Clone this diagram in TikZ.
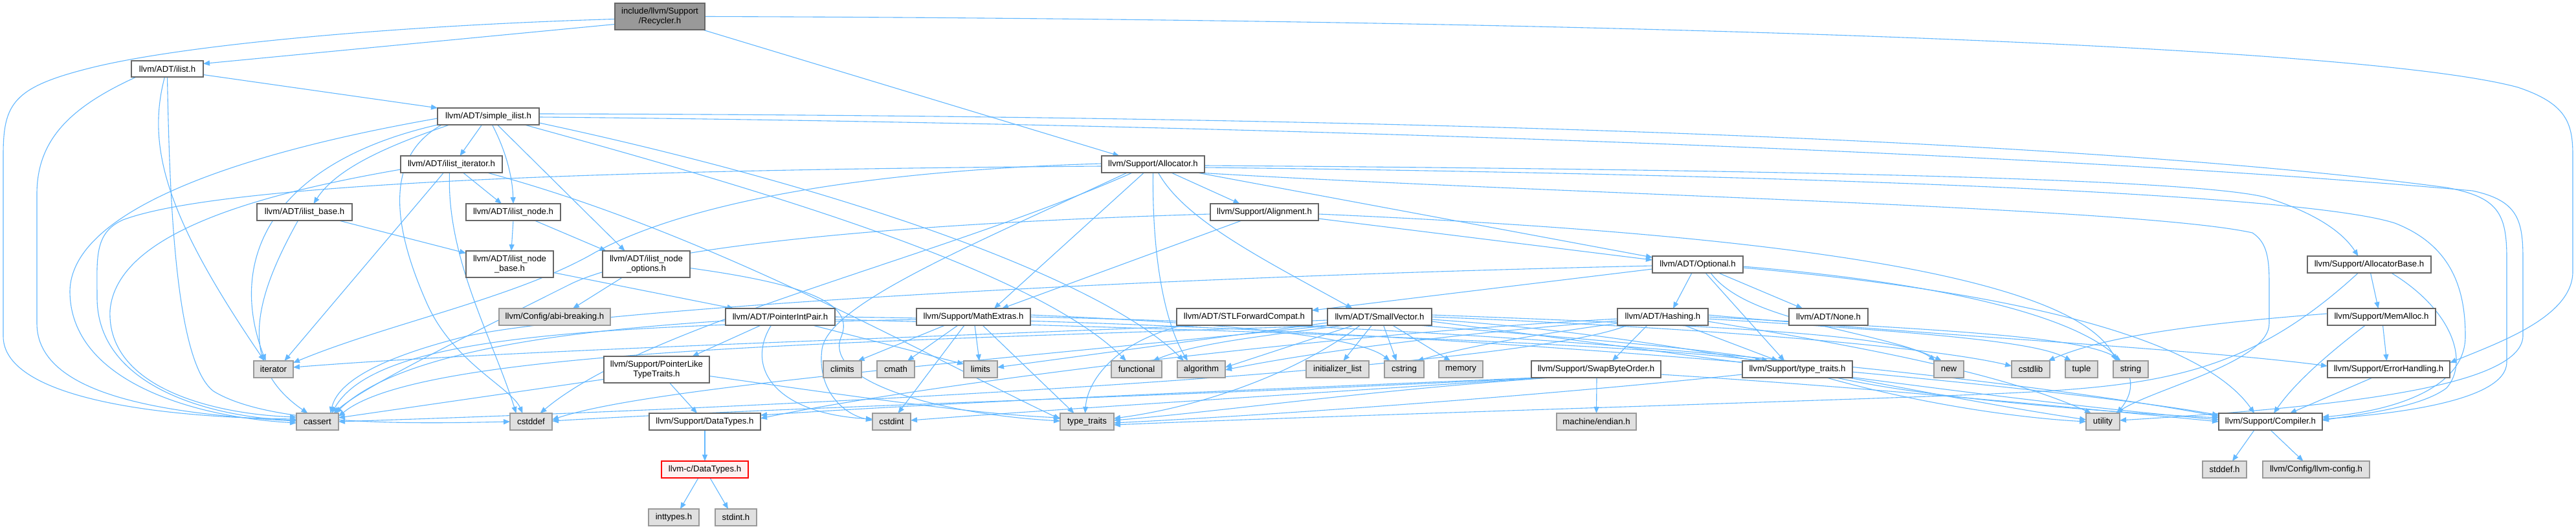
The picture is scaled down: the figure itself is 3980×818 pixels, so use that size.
\documentclass[tikz,border=0pt]{standalone}
\usepackage{fontspec}
\setmainfont{Liberation Sans}
\usetikzlibrary{arrows.meta,calc}
\definecolor{edgec}{HTML}{63B8FF}
\definecolor{wbord}{HTML}{666666}
\definecolor{gbord}{HTML}{999999}
\definecolor{gfill}{HTML}{E0E0E0}
\definecolor{rootf}{HTML}{999999}
\definecolor{rfill}{HTML}{FFF0F0}
\pgfdeclarelayer{bg}
\pgfsetlayers{bg,main}
\tikzset{
  box/.style={rectangle,inner sep=0pt,align=center,font=\fontsize{6.6}{7.2}\selectfont,line width=0.6pt},
  wbox/.style={box,draw=wbord,fill=white},
  gbox/.style={box,draw=gbord,fill=gfill},
  rootbox/.style={box,draw=wbord,fill=rootf},
  rbox/.style={box,draw=red,fill=rfill},
  e/.style={draw=edgec,line width=0.55pt,-{Triangle[length=5pt,width=4pt]}}
}
\newcommand\mkbox[7]{\node[#6,minimum width={(#4-#2)*0.5pt},minimum height={(#5-#3)*0.5pt}] (#1) at ({(#2+#4)/2},{(#3+#5)/2}) {#7};}
\begin{document}
\begin{tikzpicture}[x=0.5pt,y=-0.5pt]
\useasboundingbox (0,0) rectangle (3980,818);
\begin{pgfonlayer}{bg}
\fill[white] (0,0) rectangle (3980,818);
\end{pgfonlayer}
\mkbox{root}{950}{5}{1089}{46}{rootbox}{include/llvm/Support\\/Recycler.h}
\mkbox{ilist}{203}{94}{314}{119}{wbox}{llvm/ADT/ilist.h}
\mkbox{simple}{676}{167}{833}{193}{wbox}{llvm/ADT/simple\_ilist.h}
\mkbox{iter}{619}{241}{776}{267}{wbox}{llvm/ADT/ilist\_iterator.h}
\mkbox{ibase}{397}{315}{544}{341}{wbox}{llvm/ADT/ilist\_base.h}
\mkbox{inode}{720}{315}{866}{341}{wbox}{llvm/ADT/ilist\_node.h}
\mkbox{nodebase}{720}{388}{855}{429}{wbox}{llvm/ADT/ilist\_node\\\_base.h}
\mkbox{nodeopt}{931}{388}{1066}{429}{wbox}{llvm/ADT/ilist\_node\\\_options.h}
\mkbox{alloc}{1702}{241}{1861}{267}{wbox}{llvm/Support/Allocator.h}
\mkbox{alignh}{1870}{315}{2037}{341}{wbox}{llvm/Support/Alignment.h}
\mkbox{optional}{2553}{396}{2693}{422}{wbox}{llvm/ADT/Optional.h}
\mkbox{allocbase}{3565}{396}{3756}{422}{wbox}{llvm/Support/AllocatorBase.h}
\mkbox{abi}{771}{477}{943}{503}{gbox}{llvm/Config/abi-breaking.h}
\mkbox{pip}{1121}{477}{1290}{503}{wbox}{llvm/ADT/PointerIntPair.h}
\mkbox{mathx}{1416}{477}{1592}{503}{wbox}{llvm/Support/MathExtras.h}
\mkbox{stlfc}{1818}{477}{2027}{503}{wbox}{llvm/ADT/STLForwardCompat.h}
\mkbox{smallvec}{2051}{477}{2212}{503}{wbox}{llvm/ADT/SmallVector.h}
\mkbox{hashing}{2499}{477}{2639}{503}{wbox}{llvm/ADT/Hashing.h}
\mkbox{noneh}{2764}{477}{2886}{503}{wbox}{llvm/ADT/None.h}
\mkbox{memalloc}{3596}{477}{3763}{503}{wbox}{llvm/Support/MemAlloc.h}
\mkbox{iterator}{392}{558}{453}{584}{gbox}{iterator}
\mkbox{pltt}{933}{551}{1096}{592}{wbox}{llvm/Support/PointerLike\\TypeTraits.h}
\mkbox{climits}{1272}{558}{1331}{584}{gbox}{climits}
\mkbox{cmath}{1355}{558}{1413}{584}{gbox}{cmath}
\mkbox{limits}{1489}{558}{1541}{584}{gbox}{limits}
\mkbox{functional}{1717}{558}{1795}{584}{gbox}{functional}
\mkbox{algorithm}{1819}{558}{1893}{584}{gbox}{algorithm}
\mkbox{initlist}{2018}{558}{2115}{584}{gbox}{initializer\_list}
\mkbox{cstring}{2139}{558}{2200}{584}{gbox}{cstring}
\mkbox{memory}{2223}{558}{2291}{584}{gbox}{memory}
\mkbox{swap}{2366}{558}{2566}{584}{wbox}{llvm/Support/SwapByteOrder.h}
\mkbox{tt}{2692}{558}{2862}{584}{wbox}{llvm/Support/type\_traits.h}
\mkbox{newh}{2988}{558}{3034}{584}{gbox}{new}
\mkbox{cstdlib}{3108}{558}{3167}{584}{gbox}{cstdlib}
\mkbox{tuple}{3191}{558}{3241}{584}{gbox}{tuple}
\mkbox{stringh}{3265}{558}{3319}{584}{gbox}{string}
\mkbox{errh}{3596}{558}{3785}{584}{wbox}{llvm/Support/ErrorHandling.h}
\mkbox{cassert}{458}{639}{523}{665}{gbox}{cassert}
\mkbox{cstddef}{788}{639}{853}{665}{gbox}{cstddef}
\mkbox{datatypes}{1003}{639}{1175}{665}{wbox}{llvm/Support/DataTypes.h}
\mkbox{cstdint}{1348}{639}{1407}{665}{gbox}{cstdint}
\mkbox{typetraits}{1638}{639}{1721}{665}{gbox}{type\_traits}
\mkbox{endian}{2405}{639}{2528}{665}{gbox}{machine/endian.h}
\mkbox{utility}{3223}{639}{3275}{665}{gbox}{utility}
\mkbox{compiler}{3428}{639}{3588}{665}{wbox}{llvm/Support/Compiler.h}
\mkbox{cdt}{1022}{713}{1156}{739}{rbox}{llvm-c/DataTypes.h}
\mkbox{stddef}{3403}{713}{3471}{739}{gbox}{stddef.h}
\mkbox{llvmconfig}{3496}{713}{3661}{739}{gbox}{llvm/Config/llvm-config.h}
\mkbox{inttypes}{1002}{787}{1080}{813}{gbox}{inttypes.h}
\mkbox{stdint}{1105}{787}{1169}{813}{gbox}{stdint.h}
\begin{pgfonlayer}{bg}
% root
\draw[e] ($(root)+(-69.5,4)$) .. controls (600,40) and (280,70) .. (140,105) .. controls (20,135) and (5,160) .. (5,240) -- (5,520) .. controls (5,610) and (220,645) .. ($(cassert)+(-32.5,-4)$);
\draw[e] ($(root)+(-69.5,12)$) -- ($(ilist)+(55.5,-8)$);
\draw[e] ($(root)+(66,20.5)$) -- ($(alloc)+(-52,-13)$);
\draw[e] ($(root)+(69.5,0)$) .. controls (2500,30) and (3650,70) .. (3890,135) .. controls (3965,160) and (3975,190) .. (3975,240) -- (3975,420) .. controls (3975,490) and (3860,530) .. ($(errh)+(94.5,-10)$);
% ilist
\draw[e] ($(ilist)+(55.5,9)$) -- ($(simple)+(-78.5,-13)$);
\draw[e] ($(ilist)+(-48,12.5)$) .. controls (110,165) and (57,215) .. (57,300) -- (57,500) .. controls (57,610) and (250,640) .. ($(cassert)+(-32.5,-1)$);
\draw[e] ($(ilist)+(-4,12.5)$) .. controls (225,230) and (260,340) .. ($(iterator)+(-14,-13)$);
\draw[e] ($(ilist)+(0,12.5)$) .. controls (262,300) and (270,560) .. (330,605) .. controls (420,660) and (650,655) .. ($(cstddef)+(-32.5,0)$);
% simple_ilist
\draw[e] ($(simple)+(-10,13)$) -- ($(iter)+(13,-13)$);
\draw[e] ($(simple)+(-60,13)$) .. controls (600,225) and (520,260) .. ($(ibase)+(14,-13)$);
\draw[e] ($(simple)+(6,13)$) .. controls (785,240) and (792,280) .. ($(inode)+(0,-13)$);
\draw[e] ($(simple)+(14,13)$) -- ($(nodeopt)+(-33,-20.5)$);
\draw[e] ($(simple)+(78.5,-4)$) .. controls (1800,178) and (3100,200) .. (3780,290) .. controls (3860,305) and (3873,330) .. (3873,400) -- (3873,560) .. controls (3873,620) and (3700,640) .. ($(compiler)+(80,-4)$);
\draw[e] ($(simple)+(78.5,1)$) .. controls (1800,190) and (3100,230) .. (3820,295) .. controls (3890,310) and (3898,340) .. (3898,400) -- (3898,520) .. controls (3895,600) and (3600,630) .. ($(utility)+(26,-2)$);
\draw[e] ($(simple)+(56,13)$) .. controls (1200,300) and (1600,420) .. ($(functional)+(-16,-13)$);
\draw[e] ($(simple)+(78.5,10)$) .. controls (1300,290) and (1700,430) .. ($(algorithm)+(-27,-13)$);
\draw[e] ($(simple)+(-78.5,3)$) .. controls (350,240) and (110,330) .. (108,450) .. controls (108,590) and (300,645) .. ($(cassert)+(-32.5,2)$);
\draw[e] ($(simple)+(-72,13)$) .. controls (580,250) and (620,380) .. (660,470) .. controls (700,560) and (790,600) .. ($(cstddef)+(-13,-13)$);
\draw[e] ($(simple)+(-74,12)$) .. controls (420,250) and (350,400) .. ($(iterator)+(-12,-13)$);
% ilist_iterator
\draw[e] ($(iter)+(18,13)$) -- ($(inode)+(-18,-13)$);
\draw[e] ($(iter)+(-78.5,8)$) .. controls (400,300) and (180,360) .. (170,480) .. controls (165,600) and (330,640) .. ($(cassert)+(-32.5,-7)$);
\draw[e] ($(iter)+(-3,13)$) .. controls (690,400) and (760,520) .. ($(cstddef)+(-23,-13)$);
\draw[e] ($(iter)+(-12,13)$) -- ($(iterator)+(17,-13)$);
\draw[e] ($(iter)+(55,13)$) .. controls (1100,360) and (1450,560) .. ($(typetraits)+(-41.5,-4)$);
% ilist_base
\draw[e] ($(ibase)+(53,13)$) -- ($(nodebase)+(-67.5,-17)$);
\draw[e] ($(ibase)+(-10,13)$) .. controls (400,450) and (360,560) .. ($(cassert)+(-15,-13)$);
% ilist_node
\draw[e] ($(inode)+(0,13)$) -- ($(nodebase)+(2.5,-20.5)$);
\draw[e] ($(inode)+(33,13)$) -- ($(nodeopt)+(-62,-20.5)$);
\draw[e] ($(nodebase)+(67.5,13)$) -- ($(pip)+(-72,-13)$);
\draw[e] ($(nodeopt)+(-37,20.5)$) -- ($(abi)+(28,-13)$);
\draw[e] ($(nodeopt)+(67.5,6)$) .. controls (1250,440) and (1320,470) .. (1300,520) .. controls (1270,590) and (1450,640) .. ($(typetraits)+(-41.5,-1)$);
% Allocator
\draw[e] ($(alloc)+(28,13)$) -- ($(alignh)+(-38,-13)$);
\draw[e] ($(alloc)+(68,13)$) -- ($(optional)+(-70,-11)$);
\draw[e] ($(alloc)+(8,13)$) .. controls (1830,340) and (1950,400) .. ($(smallvec)+(-42,-13)$);
\draw[e] ($(alloc)+(-14,13)$) -- ($(mathx)+(32,-13)$);
\draw[e] ($(alloc)+(0,13)$) .. controls (1780,400) and (1800,500) .. ($(algorithm)+(-21,-13)$);
\draw[e] ($(alloc)+(79.5,2)$) .. controls (2700,262) and (3380,275) .. (3500,305) .. controls (3580,330) and (3620,360) .. ($(allocbase)+(-17,-13)$);
\draw[e] ($(alloc)+(79.5,5)$) .. controls (2800,270) and (3560,300) .. (3700,345) .. controls (3790,380) and (3809,450) .. (3809,520) .. controls (3809,600) and (3700,635) .. ($(compiler)+(80,-7)$);
\draw[e] ($(alloc)+(69,13)$) .. controls (2400,300) and (3300,320) .. (3480,360) .. controls (3503,375) and (3506,400) .. (3506,440) -- (3506,500) .. controls (3506,560) and (3330,600) .. ($(utility)+(20,-13)$);
\draw[e] ($(alloc)+(-79.5,3)$) .. controls (1000,262) and (350,280) .. (190,340) .. controls (145,360) and (150,400) .. (150,460) .. controls (150,600) and (330,645) .. ($(cassert)+(-32.5,-2)$);
\draw[e] ($(alloc)+(-79.5,-1)$) .. controls (1300,265) and (1050,320) .. (920,390) .. controls (800,460) and (600,500) .. ($(iterator)+(30.5,-10)$);
\draw[e] ($(alloc)+(-40,13)$) .. controls (1500,380) and (1280,470) .. (1270,540) .. controls (1262,600) and (1300,640) .. ($(cstdint)+(-29.5,-2)$);
\draw[e] ($(alloc)+(-32,13)$) .. controls (1450,400) and (1000,500) .. ($(cstddef)+(14,-13)$);
% Alignment
\draw[e] ($(alignh)+(83.5,10)$) -- ($(optional)+(-70,-7)$);
\draw[e] ($(alignh)+(-35,13)$) -- ($(mathx)+(44,-13)$);
\draw[e] ($(alignh)+(-83.5,3)$) .. controls (1400,345) and (1000,380) .. (880,440) .. controls (700,530) and (560,600) .. ($(cassert)+(25,-13)$);
\draw[e] ($(alignh)+(83.5,3)$) .. controls (2700,360) and (3200,420) .. ($(stringh)+(-22,-13)$);
% Optional
\draw[e] ($(optional)+(-9,13)$) -- ($(hashing)+(16,-13)$);
\draw[e] ($(optional)+(32,13)$) -- ($(noneh)+(-40,-13)$);
\draw[e] ($(optional)+(-70,7)$) -- ($(stlfc)+(104.5,-10)$);
\draw[e] ($(optional)+(12,13)$) -- ($(tt)+(-20,-13)$);
\draw[e] ($(optional)+(-70,2)$) .. controls (1700,430) and (900,480) .. (720,520) .. controls (560,560) and (520,600) .. ($(cassert)+(20,-13)$);
\draw[e] ($(optional)+(20,13)$) .. controls (2700,500) and (2900,510) .. ($(newh)+(-11,-13)$);
\draw[e] ($(optional)+(70,3)$) .. controls (3150,450) and (3350,540) .. ($(utility)+(22,-13)$);
\draw[e] ($(optional)+(70,5)$) .. controls (3100,450) and (3400,520) .. ($(compiler)+(-25,-13)$);
% SmallVector
\draw[e] ($(smallvec)+(-12,13)$) -- ($(initlist)+(9,-13)$);
\draw[e] ($(smallvec)+(6,13)$) -- ($(cstring)+(-12,-13)$);
\draw[e] ($(smallvec)+(20,13)$) -- ($(memory)+(-16,-13)$);
\draw[e] ($(smallvec)+(-40,13)$) -- ($(algorithm)+(37,-3)$);
\draw[e] ($(smallvec)+(-55,13)$) .. controls (1950,520) and (1850,530) .. ($(functional)+(25,-13)$);
\draw[e] ($(smallvec)+(-80.5,5)$) .. controls (1500,520) and (800,540) .. ($(iterator)+(30.5,-3)$);
\draw[e] ($(smallvec)+(-80.5,9)$) -- ($(limits)+(26,-3)$);
\draw[e] ($(smallvec)+(-68,13)$) .. controls (1300,530) and (650,540) .. ($(cassert)+(32.5,-8)$);
\draw[e] ($(smallvec)+(-74,13)$) .. controls (1500,560) and (1000,600) .. ($(cstddef)+(32.5,-3)$);
\draw[e] ($(smallvec)+(-30,13)$) .. controls (2000,580) and (1850,630) .. ($(typetraits)+(41.5,-5)$);
\draw[e] ($(smallvec)+(80.5,-3)$) .. controls (2700,505) and (2940,520) .. ($(newh)+(-21,-13)$);
\draw[e] ($(smallvec)+(80.5,0)$) .. controls (2700,510) and (3000,540) .. ($(cstdlib)+(-29.5,-5)$);
\draw[e] ($(smallvec)+(80.5,4)$) .. controls (2600,520) and (2900,600) .. ($(utility)+(-26,-3)$);
\draw[e] ($(smallvec)+(80.5,7)$) .. controls (2700,560) and (3100,620) .. ($(compiler)+(-80,-3)$);
\draw[e] ($(smallvec)+(60,13)$) .. controls (2400,520) and (2650,540) .. ($(tt)+(-45,-13)$);
% Hashing
\draw[e] ($(hashing)+(-24,13)$) -- ($(swap)+(25,-13)$);
\draw[e] ($(hashing)+(33,13)$) -- ($(tt)+(-30,-13)$);
\draw[e] ($(hashing)+(-70,10)$) .. controls (2350,520) and (2250,540) .. ($(cstring)+(20,-13)$);
\draw[e] ($(hashing)+(-70,3)$) .. controls (2000,520) and (1400,600) .. ($(datatypes)+(86,-5)$);
\draw[e] ($(hashing)+(-70,6)$) .. controls (2200,520) and (2000,550) .. ($(algorithm)+(37,1)$);
\draw[e] ($(hashing)+(-55,13)$) .. controls (2380,560) and (1500,620) .. ($(cassert)+(32.5,0)$);
\draw[e] ($(hashing)+(70,-3)$) .. controls (3000,520) and (3400,540) .. ($(errh)+(-94.5,-5)$);
\draw[e] ($(hashing)+(70,0)$) .. controls (3000,510) and (3220,520) .. ($(stringh)+(-15,-13)$);
\draw[e] ($(hashing)+(70,3)$) .. controls (3000,515) and (3150,530) .. ($(tuple)+(-16,-13)$);
\draw[e] ($(hashing)+(70,7)$) .. controls (2900,540) and (3100,580) .. ($(utility)+(-18,-13)$);
% SwapByteOrder
\draw[e] ($(swap)+(1,13)$) -- ($(endian)+(0,-13)$);
\draw[e] ($(swap)+(100,8)$) .. controls (2900,600) and (3200,630) .. ($(compiler)+(-80,0)$);
\draw[e] ($(swap)+(-92,13)$) .. controls (2000,600) and (1500,620) .. ($(datatypes)+(86,-10)$);
\draw[e] ($(swap)+(-85,13)$) .. controls (1900,610) and (1200,630) .. ($(cstddef)+(32.5,-1)$);
\draw[e] ($(swap)+(-78,13)$) .. controls (2000,610) and (1600,635) .. ($(cstdint)+(29.5,-2)$);
\draw[e] ($(swap)+(-70,13)$) .. controls (2100,605) and (1900,635) .. ($(typetraits)+(41.5,-2)$);
% type_traits.h
\draw[e] ($(tt)+(-85,8)$) .. controls (2400,610) and (2000,640) .. ($(typetraits)+(41.5,2)$);
\draw[e] ($(tt)+(60,13)$) .. controls (3000,620) and (3300,640) .. ($(compiler)+(-80,-6)$);
\draw[e] ($(tt)+(45,13)$) .. controls (2950,620) and (3100,645) .. ($(utility)+(-26,0)$);
% MathExtras
\draw[e] ($(mathx)+(-44,13)$) -- ($(climits)+(24,-13)$);
\draw[e] ($(mathx)+(-24,13)$) -- ($(cmath)+(18,-13)$);
\draw[e] ($(mathx)+(2,13)$) -- ($(limits)+(-2,-13)$);
\draw[e] ($(mathx)+(-14,13)$) -- ($(cstdint)+(10,-13)$);
\draw[e] ($(mathx)+(14,13)$) -- ($(typetraits)+(-20,-13)$);
\draw[e] ($(mathx)+(-88,4)$) .. controls (900,505) and (580,520) .. ($(cassert)+(22,-13)$);
\draw[e] ($(mathx)+(88,-3)$) .. controls (1900,500) and (2100,520) .. ($(cstring)+(-22,-13)$);
\draw[e] ($(mathx)+(88,0)$) .. controls (2500,510) and (3200,600) .. ($(compiler)+(-80,-8)$);
% STLForwardCompat
\draw[e] ($(stlfc)+(-95,13)$) .. controls (1720,530) and (1680,590) .. ($(typetraits)+(-3,-13)$);
% PointerIntPair
\draw[e] ($(pip)+(-30,13)$) -- ($(pltt)+(55,-20.5)$);
\draw[e] ($(pip)+(-14,13)$) .. controls (1150,570) and (1200,640) .. ($(cstdint)+(-29.5,-4)$);
\draw[e] ($(pip)+(50,13)$) -- ($(limits)+(-26,-8)$);
\draw[e] ($(pip)+(-84.5,6)$) .. controls (900,510) and (620,540) .. ($(cassert)+(28,-13)$);
\draw[e] ($(pip)+(84.5,0)$) .. controls (2200,500) and (3200,600) .. ($(compiler)+(-80,-10)$);
\draw[e] ($(pip)+(84.5,4)$) .. controls (1900,510) and (2500,530) .. ($(tt)+(-55,-13)$);
% PointerLikeTypeTraits
\draw[e] ($(pltt)+(20,20.5)$) -- ($(datatypes)+(-12,-13)$);
\draw[e] ($(pltt)+(-81.5,15)$) -- ($(cassert)+(32.5,-6)$);
\draw[e] ($(pltt)+(81.5,10)$) .. controls (1300,610) and (1500,640) .. ($(typetraits)+(-41.5,-6)$);
% DataTypes
\draw[e] ($(datatypes)+(0,13)$) -- ($(cdt)+(0,-13)$);
\draw[e] ($(cdt)+(-10,13)$) -- ($(inttypes)+(10,-13)$);
\draw[e] ($(cdt)+(8,13)$) -- ($(stdint)+(-12,-13)$);
% AllocatorBase
\draw[e] ($(allocbase)+(2,13)$) -- ($(memalloc)+(-5,-13)$);
\draw[e] ($(allocbase)+(34,13)$) .. controls (3790,480) and (3815,560) .. (3780,600) .. controls (3740,630) and (3650,640) .. ($(compiler)+(80,-2)$);
\draw[e] ($(allocbase)+(-17,13)$) .. controls (3450,600) and (3300,600) .. (2980,613) .. controls (2500,630) and (2000,645) .. ($(typetraits)+(41.5,5)$);
% MemAlloc
\draw[e] ($(memalloc)+(-83.5,-5)$) .. controls (3400,500) and (3250,520) .. ($(cstdlib)+(27,-13)$);
\draw[e] ($(memalloc)+(-25,13)$) .. controls (3580,560) and (3540,600) .. ($(compiler)+(5,-13)$);
\draw[e] ($(memalloc)+(2,13)$) -- ($(errh)+(-3,-13)$);
% ErrorHandling / Compiler
\draw[e] ($(errh)+(-25,13)$) -- ($(compiler)+(30,-13)$);
\draw[e] ($(compiler)+(-25,13)$) -- ($(stddef)+(12,-13)$);
\draw[e] ($(compiler)+(0,13)$) -- ($(llvmconfig)+(-20,-13)$);
\end{pgfonlayer}
\end{tikzpicture}
\end{document}
